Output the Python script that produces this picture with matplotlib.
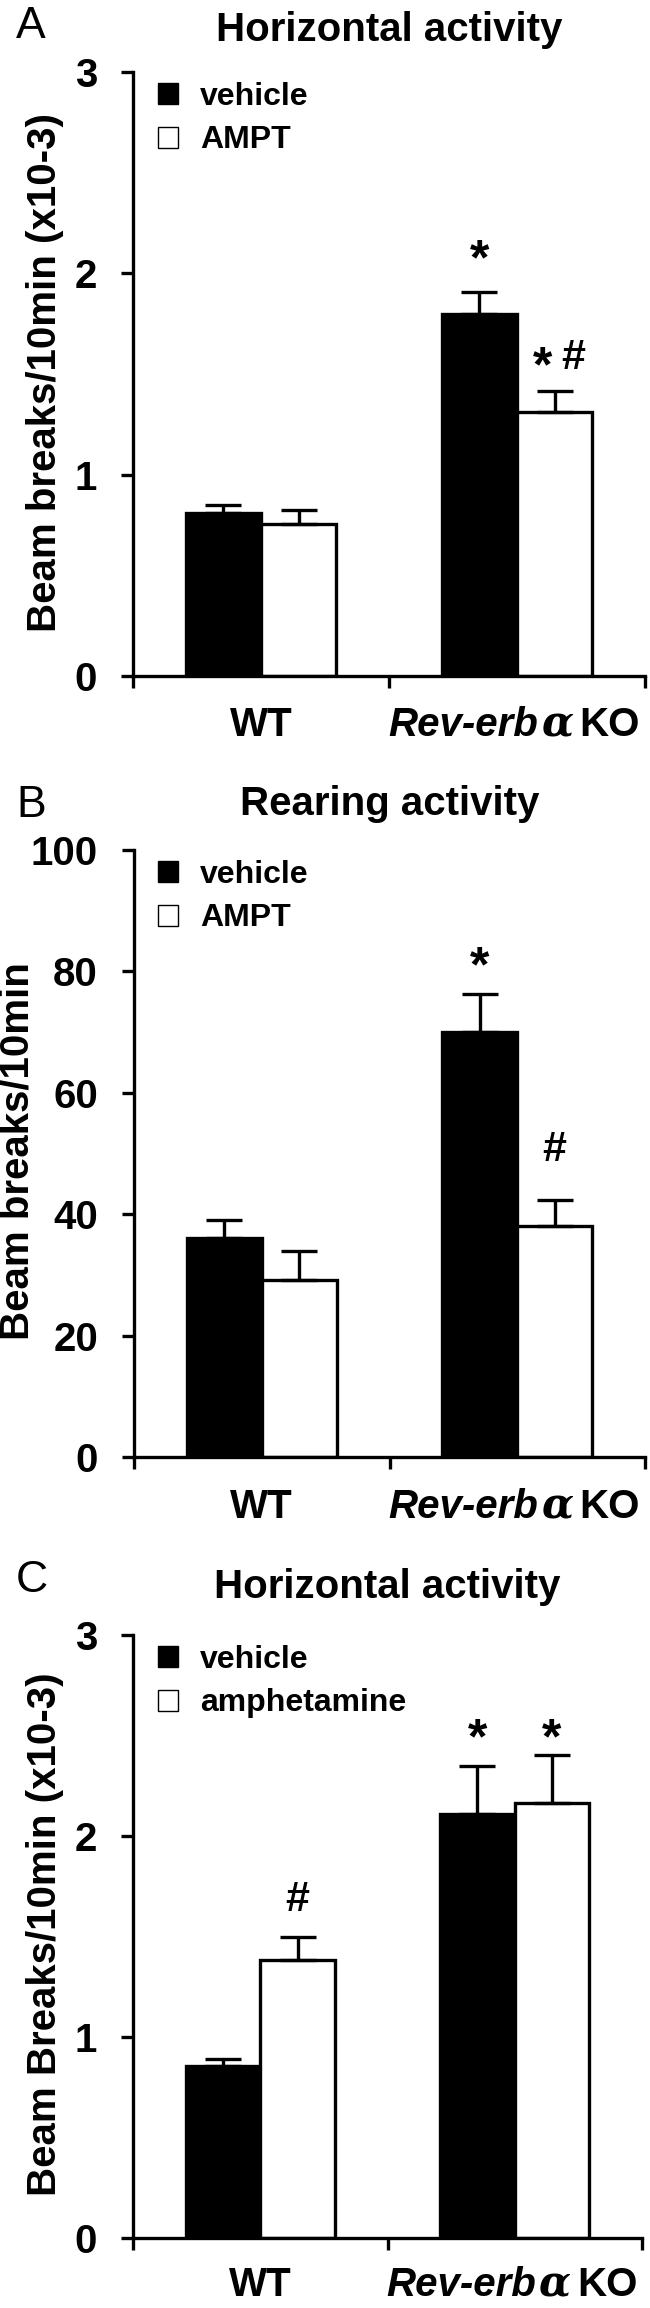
import matplotlib
matplotlib.use('Agg')
import matplotlib.pyplot as plt
from matplotlib.patches import Patch

plt.rcParams['font.family'] = ['Liberation Sans', 'DejaVu Sans']

W, H = 650, 2308
PT = 72.0 / 100.0  # points per pixel at dpi 100

# ---------------- data ----------------
groups = ['WT', 'Rev-erbα KO']

a_vehicle = [0.81, 1.80]
a_vehicle_err = [0.037, 0.107]
a_ampt = [0.757, 1.311]
a_ampt_err = [0.066, 0.105]

b_vehicle = [36.0, 70.0]
b_vehicle_err = [3.1, 6.2]
b_ampt = [29.2, 38.1]
b_ampt_err = [4.7, 4.2]

c_vehicle = [0.854, 2.110]
c_vehicle_err = [0.039, 0.239]
c_amph = [1.382, 2.164]
c_amph_err = [0.116, 0.237]

yticks_a = [0, 1, 2, 3]
yticks_b = [0, 20, 40, 60, 80, 100]
yticks_c = [0, 1, 2, 3]

# significance marks: (group index, series index, text, y of mark centre)
marks_a = [(1, 0, '*', 2.13), (1, 1, '*#', 1.60)]
marks_b = [(1, 0, '*', 82.9), (1, 1, '#', 51.2)]
marks_c = [(0, 1, '#', 1.70), (1, 0, '*', 2.55), (1, 1, '*', 2.55)]

panels = [
    dict(letter='A', title='Horizontal activity', ylabel='Beam breaks/10min (x10-3)',
         s1=a_vehicle, e1=a_vehicle_err, s2=a_ampt, e2=a_ampt_err,
         legend=['vehicle', 'AMPT'], yticks=yticks_a, marks=marks_a,
         box=(133, 645, 72, 676), title_base=41, letter_base=38, ylab_x=45, xlab_base=60),
    dict(letter='B', title='Rearing activity', ylabel='Beam breaks/10min',
         s1=b_vehicle, e1=b_vehicle_err, s2=b_ampt, e2=b_ampt_err,
         legend=['vehicle', 'AMPT'], yticks=yticks_b, marks=marks_b,
         box=(134, 645, 850, 1457), title_base=815, letter_base=817, ylab_x=18, xlab_base=61),
    dict(letter='C', title='Horizontal activity', ylabel='Beam Breaks/10min (x10-3)',
         s1=c_vehicle, e1=c_vehicle_err, s2=c_amph, e2=c_amph_err,
         legend=['vehicle', 'amphetamine'], yticks=yticks_c, marks=marks_c,
         box=(133, 642, 1635, 2238), title_base=1598, letter_base=1592, ylab_x=45, xlab_base=58),
]

fig = plt.figure(figsize=(W / 100, H / 100), dpi=100)

LW = 2.4
BW = 0.293
TXT = 29
STAR = 36
HASH = 31


def put_mark(ax, xc, yv, ch, dx_px=0):
    if ch == '*':
        ax.annotate('*', xy=(xc, yv), xytext=(dx_px * PT, -0.55 * STAR), textcoords='offset points',
                    ha='center', va='baseline', fontsize=STAR, fontweight='bold')
    else:
        ax.annotate('#', xy=(xc, yv), xytext=(dx_px * PT, -0.35 * HASH), textcoords='offset points',
                    ha='center', va='baseline', fontsize=HASH, fontweight='bold')


for p in panels:
    l, r, t, b = p['box']
    ax = fig.add_axes([l / W, 1 - b / H, (r - l) / W, (b - t) / H])
    xs = list(range(len(groups)))
    x1 = [x - BW / 2 for x in xs]
    x2 = [x + BW / 2 for x in xs]
    ax.bar(x1, p['s1'], width=BW, color='black', edgecolor='black', linewidth=LW, zorder=2)
    ax.bar(x2, p['s2'], width=BW, color='white', edgecolor='black', linewidth=LW, zorder=2)
    ax.errorbar(x1, p['s1'], yerr=[[0] * len(xs), p['e1']], fmt='none', ecolor='black',
                elinewidth=LW, capsize=13, capthick=LW, zorder=3)
    ax.errorbar(x2, p['s2'], yerr=[[0] * len(xs), p['e2']], fmt='none', ecolor='black',
                elinewidth=LW, capsize=13, capthick=LW, zorder=3)

    ax.set_xlim(-0.5, len(groups) - 0.5)
    ax.set_ylim(p['yticks'][0], p['yticks'][-1])
    ax.set_yticks(p['yticks'])
    ax.set_yticklabels([str(v) for v in p['yticks']], fontsize=TXT, fontweight='bold')
    ax.set_xticks([x - 0.5 for x in xs] + [xs[-1] + 0.5])
    ax.set_xticklabels([])
    ax.tick_params(axis='both', direction='out', length=12 * PT, width=LW, color='black')
    ax.tick_params(axis='y', pad=24 * PT)
    for s in ['top', 'right']:
        ax.spines[s].set_visible(False)
    for s in ['left', 'bottom']:
        ax.spines[s].set_linewidth(LW)
    ax.patch.set_visible(False)

    # category labels
    tr = ax.get_xaxis_transform()
    yoff = -p['xlab_base'] * PT
    ax.annotate(groups[0], xy=(0, 0), xycoords=tr, xytext=(0, yoff),
                textcoords='offset points', ha='center', va='baseline',
                fontsize=TXT, fontweight='bold')
    ital, rest = groups[1].split(' ')
    gene, greek = ital[:-1], ital[-1]
    ax.annotate(gene, xy=(1, 0), xycoords=tr, xytext=(21 * PT, yoff),
                textcoords='offset points', ha='right', va='baseline',
                fontsize=TXT, fontweight='bold', fontstyle='italic')
    ax.annotate(greek, xy=(1, 0), xycoords=tr, xytext=(40 * PT, yoff),
                textcoords='offset points', ha='center', va='baseline',
                fontsize=TXT + 1, fontweight='bold', fontstyle='italic',
                family=['DejaVu Serif', 'DejaVu Sans'])
    ax.annotate(rest, xy=(1, 0), xycoords=tr, xytext=(62 * PT, yoff),
                textcoords='offset points', ha='left', va='baseline',
                fontsize=TXT, fontweight='bold')

    # significance marks
    for gi, si, txt, yv in p['marks']:
        xc = x1[gi] if si == 0 else x2[gi]
        if txt == '*#':
            put_mark(ax, xc, yv, '*', -12)
            put_mark(ax, xc, yv, '#', 19)
        else:
            put_mark(ax, xc, yv, txt)

    # legend
    handles = [Patch(facecolor='black', edgecolor='black', linewidth=1.0),
               Patch(facecolor='white', edgecolor='black', linewidth=1.0)]
    ax.legend(handles, p['legend'], loc='upper left',
              bbox_to_anchor=((158 - l) / (r - l), 1 - 10 / (b - t)),
              frameon=False, prop={'size': 23, 'weight': 'bold'},
              handlelength=0.63, handleheight=0.63, handletextpad=0.69,
              labelspacing=0.42, borderaxespad=0, borderpad=0)

    # title, panel letter, y label
    fig.text((l + r) / 2 / W, 1 - p['title_base'] / H, p['title'], ha='center', va='baseline',
             fontsize=TXT, fontweight='bold')
    fig.text(16 / W, 1 - p['letter_base'] / H, p['letter'], ha='left', va='baseline',
             fontsize=32)
    fig.text(p['ylab_x'] / W, 1 - ((t + b) / 2 - 2) / H, p['ylabel'], rotation=90,
             ha='center', va='center', fontsize=TXT, fontweight='bold')

fig.savefig('out.png', dpi=100)
